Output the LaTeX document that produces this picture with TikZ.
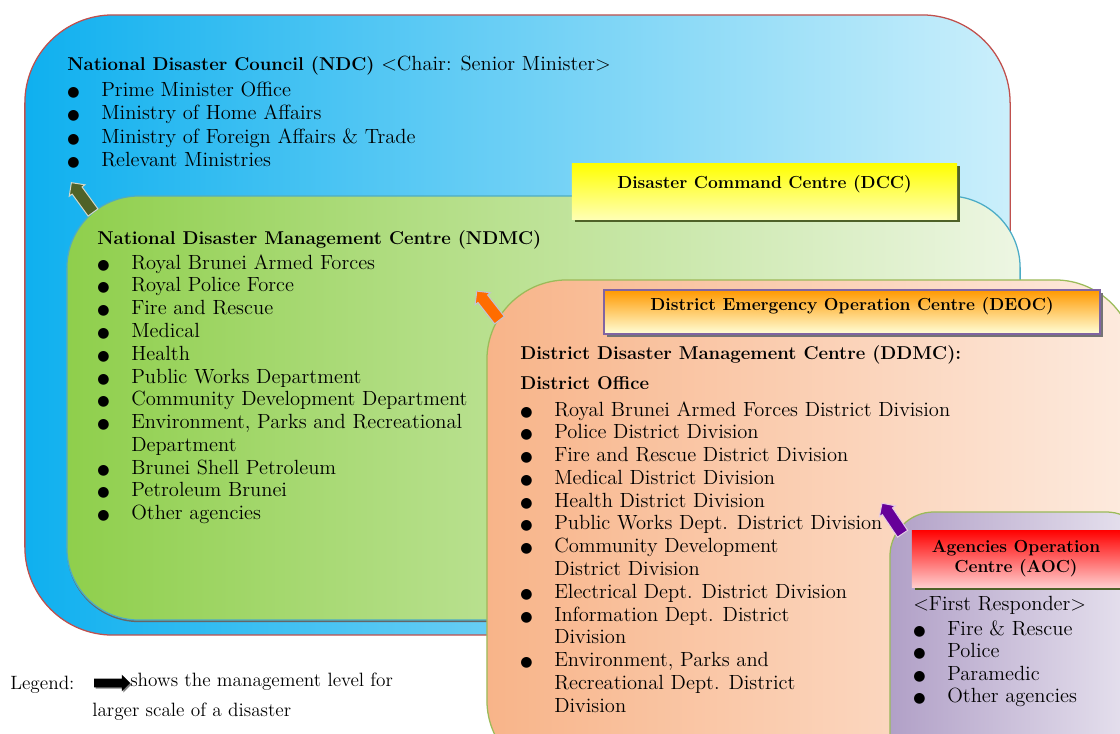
\documentclass[tikz,border=0pt]{standalone}
\usepackage{fontspec}
\newfontfamily\bulletfont{DejaVu Sans}
\usepackage{tikz}
\usetikzlibrary{shapes.arrows, shadows, positioning}
\usepackage{xcolor}

\definecolor{ndcleft}{HTML}{0FB0EF}
\definecolor{ndcright}{HTML}{CBEFFB}
\definecolor{ndcline}{HTML}{C0504D}
\definecolor{ndmcleft}{HTML}{8FCF4C}
\definecolor{ndmcright}{HTML}{EDF6E3}
\definecolor{ndmcline}{HTML}{4BACC6}
\definecolor{ddmcleft}{HTML}{F8B489}
\definecolor{ddmcright}{HTML}{FDEBDF}
\definecolor{ddmcline}{HTML}{9BBB59}
\definecolor{aocleft}{HTML}{B1A0C7}
\definecolor{aocright}{HTML}{EAE6F1}
\definecolor{olive}{HTML}{4F6228}
\definecolor{deocline}{HTML}{8064A2}

\newcommand{\blt}{\makebox[0.85cm][l]{\bulletfont\fontsize{10}{10}\selectfont ●}}
\newcommand{\indnt}{\hspace*{0.85cm}}
\newcommand{\hdg}[1]{{\fontsize{13.2}{16.2}\selectfont\bfseries #1}}

\begin{document}
\begin{tikzpicture}[x=0.025cm, y=-0.025cm,
  region/.style={draw, line width=0.9pt, inner sep=0pt},
  tagbox/.style={inner sep=0pt, align=center, font=\fontsize{12.4}{14.5}\selectfont\bfseries,
    drop shadow={shadow xshift=2pt, shadow yshift=-2.2pt, fill=olive, opacity=1}},
  entries/.style={anchor=north west, inner sep=0pt, align=left, font=\fontsize{14.6}{16.2}\selectfont},
  uparrow/.style={single arrow, draw, line width=0.7pt, inner xsep=0pt, inner ysep=0.14cm,
    minimum height=0.92cm, single arrow head extend=0.09cm}]
	\useasboundingbox (0,0) rectangle (1120,733);
	\clip (0,0) rectangle (1120,733);

	% national level
	\node[region, draw=ndcline, left color=ndcleft, right color=ndcright, rounded corners=2.2cm,
	  minimum width=24.625cm, minimum height=15.5cm] (ndc) at (517.5,325) {};
	\node[entries, font=\fontsize{14.6}{16.7}\selectfont] (ndctext) at (67,56) {\hdg{National Disaster Council (NDC)} <Chair: Senior Minister>\\[1.5pt]
		\blt Prime Minister Office\\
		\blt Ministry of Home Affairs\\
		\blt Ministry of Foreign Affairs \& Trade\\
		\blt Relevant Ministries};

	\node[region, draw=ndmcline, left color=ndmcleft, right color=ndmcright, rounded corners=1.8cm,
	  minimum width=23.825cm, minimum height=10.6cm,
	  drop shadow={shadow xshift=0pt, shadow yshift=-1.5pt, fill=black!60, opacity=1}] (ndmc) at (543.5,408) {};
	\node[tagbox, top color=yellow, bottom color=yellow!30, minimum width=9.625cm, minimum height=1.4cm,
	  inner ysep=0.15cm, text height=0.48cm, text depth=0.62cm] (dcc) at (764.5,191) {Disaster Command Centre (DCC)};
	\node[entries] (ndmctext) at (97,230) {\hdg{National Disaster Management Centre (NDMC)}\\[1.5pt]
		\blt Royal Brunei Armed Forces\\
		\blt Royal Police Force\\
		\blt Fire and Rescue\\
		\blt Medical\\
		\blt Health\\
		\blt Public Works Department\\
		\blt Community Development Department\\
		\blt Environment, Parks and Recreational\\
		\indnt Department\\
		\blt Brunei Shell Petroleum\\
		\blt Petroleum Brunei\\
		\blt Other agencies};
	\node[uparrow, fill=olive, draw=olive!25, rotate=126] (upndc) at (84,200) {};

	% district level
	\node[region, draw=ddmcline, left color=ddmcleft, right color=ddmcright, rounded corners=2cm,
	  minimum width=16.2cm, minimum height=12.5cm] (ddmc) at (811,530) {};
	\node[tagbox, draw=deocline, line width=1pt, top color=orange!80!yellow, bottom color=yellow!15,
	  drop shadow={shadow xshift=2pt, shadow yshift=-2.2pt, fill=black!55, opacity=1},
	  minimum width=12.4cm, minimum height=1.1cm, inner ysep=0.1cm, text height=0.4cm, text depth=0.5cm] (deoc) at (852,312)
	  {District Emergency Operation Centre (DEOC)};
	\node[entries] (ddmctext) at (520,345) {\hdg{District Disaster Management Centre (DDMC):}\\[5pt]
		\hdg{District Office}\\[3pt]
		\blt Royal Brunei Armed Forces District Division\\
		\blt Police District Division\\
		\blt Fire and Rescue District Division\\
		\blt Medical District Division\\
		\blt Health District Division\\
		\blt Public Works Dept. District Division\\
		\blt Community Development\\
		\indnt District Division\\
		\blt Electrical Dept. District Division\\
		\blt Information Dept. District\\
		\indnt Division\\
		\blt Environment, Parks and\\
		\indnt Recreational Dept. District\\
		\indnt Division};
	\node[uparrow, fill=orange!85!red, draw=blue!20!gray!40, rotate=128] (upddmc) at (490,308) {};

	% agencies level
	\node[region, draw=ddmcline, left color=aocleft, right color=aocright, rounded corners=1.1cm,
	  minimum width=6.5cm, minimum height=6.7cm] (aoc) at (1020,646) {};
	\node[tagbox, top color=red, bottom color=red!20, minimum width=5.2cm, minimum height=1.425cm] (aoctag) at (1016,558.5)
	  {Agencies Operation\\Centre (AOC)};
	\node[entries, font=\fontsize{14.6}{15.8}\selectfont] (aoctext) at (913,596) {<First Responder>\\[2pt]
		\blt Fire \& Rescue\\
		\blt Police\\
		\blt Paramedic\\
		\blt Other agencies};
	\node[uparrow, fill=violet!80!blue, draw=violet!20, rotate=124] (upaoc) at (894,521) {};

	% legend
	\node[anchor=base west, inner sep=0pt, font=\fontsize{13.7}{16}\selectfont] (legend) at (10,689) {Legend:};
	\node[single arrow, fill=black, inner xsep=0pt, inner ysep=0.1cm, minimum height=0.9cm, single arrow head extend=0.1cm,
	  drop shadow={shadow xshift=1pt, shadow yshift=-1pt, fill=gray, opacity=1}] (legarrow) at (110,683) {};
	\node[anchor=north west, inner sep=0pt, align=left, font=\fontsize{13.7}{21}\selectfont] (legendtext) at (92,673)
	  {\hspace*{0.95cm}shows the management level for\\larger scale of a disaster};
\end{tikzpicture}
\end{document}
